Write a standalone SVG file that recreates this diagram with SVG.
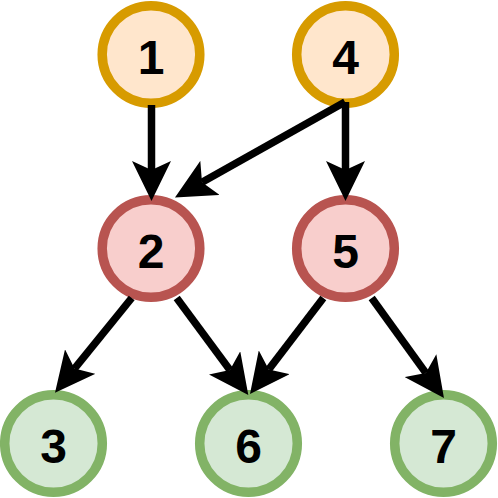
<svg xmlns="http://www.w3.org/2000/svg" width="498" height="498" viewBox="0 0 498 498">
  <style>
    .node circle { stroke-width: 9.5; }
    .orange circle { fill: #ffe6cc; stroke: #d79b00; }
    .red circle { fill: #f8cecc; stroke: #b85450; }
    .green circle { fill: #d5e8d4; stroke: #82b366; }
    .node text { font-family: "Liberation Sans", Arial, Helvetica, sans-serif; font-size: 48px; font-weight: bold; fill: #000000; text-anchor: middle; }
    .edge { fill: none; stroke: #000000; stroke-width: 7.5; marker-end: url(#arrow); }
  </style>
  <defs>
    <marker id="arrow" markerUnits="userSpaceOnUse" viewBox="0 0 40 39" markerWidth="40" markerHeight="39" refX="9" refY="19.5" orient="auto">
      <path d="M0,0 L40,19.5 L0,39 L9,19.5 Z" fill="#000000"/>
    </marker>
  </defs>
  <rect width="498" height="498" fill="#ffffff"/>
  <g id="node1" class="node orange"><circle cx="151" cy="54.5" r="48.8"/><text x="151" y="73.5">1</text></g>
  <g id="node4" class="node orange"><circle cx="345.5" cy="54.5" r="48.8"/><text x="345.5" y="73.5">4</text></g>
  <g id="node2" class="node red"><circle cx="151" cy="248.5" r="48.8"/><text x="151" y="267.5">2</text></g>
  <g id="node5" class="node red"><circle cx="345.5" cy="248.5" r="48.8"/><text x="345.5" y="267.5">5</text></g>
  <g id="node3" class="node green"><circle cx="53.5" cy="443.5" r="48.8"/><text x="53.5" y="462.5">3</text></g>
  <g id="node6" class="node green"><circle cx="248.5" cy="443.5" r="48.8"/><text x="248.5" y="462.5">6</text></g>
  <g id="node7" class="node green"><circle cx="443.5" cy="443.5" r="48.8"/><text x="443.5" y="462.5">7</text></g>
  <g id="connectors">
    <path class="edge" d="M151.5,105 L151.5,170"/>
    <path class="edge" d="M345.5,102 L345.5,170"/>
    <path class="edge" d="M345,102 L202,182.3"/>
    <path class="edge" d="M131.7,298 L74.5,368.6"/>
    <path class="edge" d="M176.7,298 L229.9,370.1"/>
    <path class="edge" d="M323.3,298 L268.8,369.4"/>
    <path class="edge" d="M371.7,298 L425.8,372.9"/>
  </g>
</svg>
